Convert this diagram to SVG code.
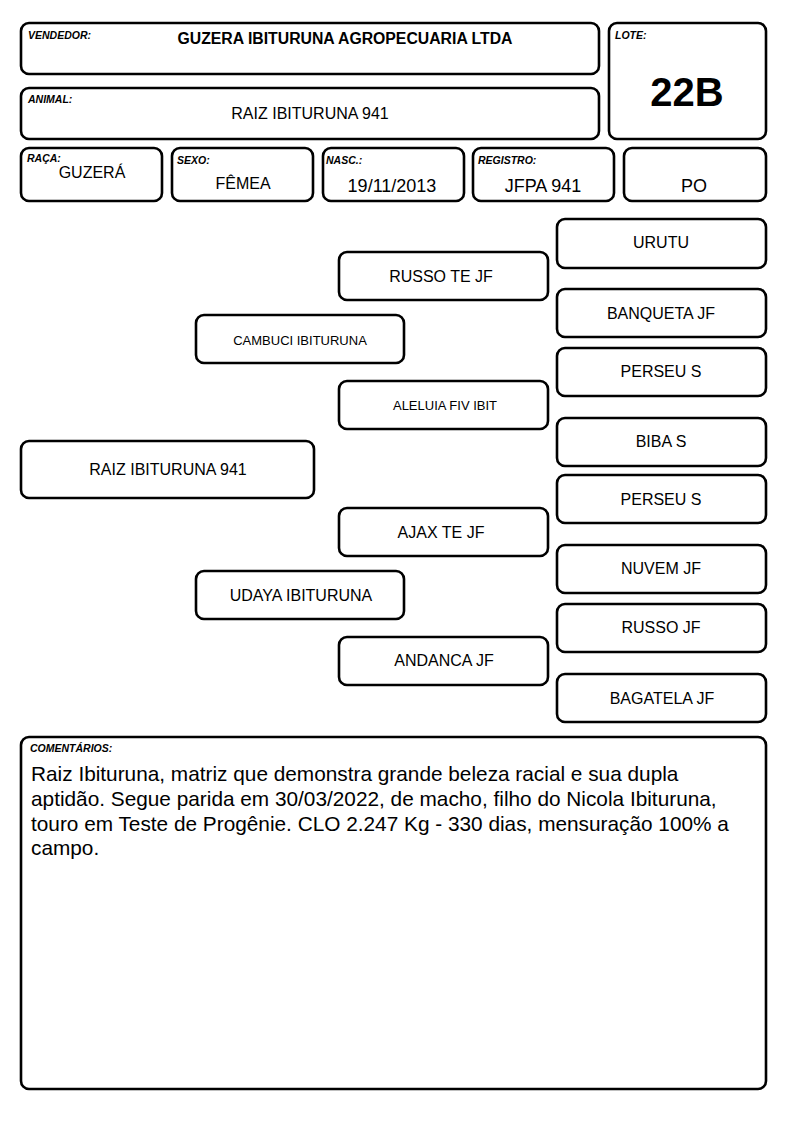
<svg xmlns="http://www.w3.org/2000/svg" width="794" height="1123" viewBox="0 0 794 1123">
<style>
.b{fill:#fff;stroke:#000;stroke-width:2.6}
.l{font-family:"Liberation Sans",Arial,sans-serif;font-size:10.5px;font-weight:bold;font-style:italic;fill:#000}
.v{font-family:"Liberation Sans",Arial,sans-serif;font-size:16px;fill:#000;text-anchor:middle}
.big{font-size:18px}
.p{font-family:"Liberation Sans",Arial,sans-serif;font-size:16px;fill:#000;text-anchor:middle}
.s{font-size:13px}
.c{font-family:"Liberation Sans",Arial,sans-serif;font-size:20.8px;fill:#000}
</style>
<rect width="794" height="1123" fill="#fff"/>
<g id="vendedor"><rect class="b" x="21" y="23" width="578" height="51" rx="8"/><text class="l" x="28" y="39">VENDEDOR:</text><text class="v" x="345" y="44" style="font-weight:bold" textLength="335" lengthAdjust="spacingAndGlyphs">GUZERA IBITURUNA AGROPECUARIA LTDA</text></g>
<g id="lote"><rect class="b" x="609" y="23" width="157" height="116" rx="8"/><text class="l" x="615" y="39">LOTE:</text><text class="v" x="687" y="106" style="font-size:40px;font-weight:bold">22B</text></g>
<g id="animal"><rect class="b" x="21" y="88" width="578" height="51" rx="8"/><text class="l" x="28" y="103">ANIMAL:</text><text class="v" x="310" y="119">RAIZ IBITURUNA 941</text></g>
<g id="raca"><rect class="b" x="21" y="148" width="141" height="53" rx="8"/><text class="l" x="27" y="162">RAÇA:</text><text class="v" x="92" y="178">GUZERÁ</text></g>
<g id="sexo"><rect class="b" x="172" y="148" width="141" height="53" rx="8"/><text class="l" x="177" y="164">SEXO:</text><text class="v" x="243" y="189">FÊMEA</text></g>
<g id="nasc"><rect class="b" x="323" y="148" width="141" height="53" rx="8"/><text class="l" x="326" y="164">NASC.:</text><text class="v big" x="392" y="192">19/11/2013</text></g>
<g id="registro"><rect class="b" x="473" y="148" width="141" height="53" rx="8"/><text class="l" x="478" y="164">REGISTRO:</text><text class="v big" x="543" y="192">JFPA 941</text></g>
<g id="po"><rect class="b" x="624" y="148" width="142" height="53" rx="8"/><text class="v big" x="694" y="192">PO</text></g>
<g id="connectors"></g>
<g id="urutu"><rect class="b" x="557" y="219" width="209" height="49" rx="8"/><text class="p" x="661" y="248">URUTU</text></g>
<g id="russo-te-jf"><rect class="b" x="339" y="252" width="209" height="48" rx="8"/><text class="p" x="441" y="282">RUSSO TE JF</text></g>
<g id="banqueta-jf"><rect class="b" x="557" y="289" width="209" height="48" rx="8"/><text class="p" x="661" y="319">BANQUETA JF</text></g>
<g id="cambuci"><rect class="b" x="196" y="315" width="208" height="48" rx="8"/><text class="p s" x="300" y="345">CAMBUCI IBITURUNA</text></g>
<g id="perseu-s-1"><rect class="b" x="557" y="348" width="209" height="48" rx="8"/><text class="p" x="661" y="377">PERSEU S</text></g>
<g id="aleluia"><rect class="b" x="339" y="381" width="209" height="48" rx="8"/><text class="p s" x="445" y="410">ALELUIA FIV IBIT</text></g>
<g id="biba-s"><rect class="b" x="557" y="418" width="209" height="48" rx="8"/><text class="p" x="661" y="447">BIBA S</text></g>
<g id="raiz"><rect class="b" x="21" y="441" width="293" height="57" rx="8"/><text class="p" x="168" y="475">RAIZ IBITURUNA 941</text></g>
<g id="perseu-s-2"><rect class="b" x="557" y="475" width="209" height="48" rx="8"/><text class="p" x="661" y="505">PERSEU S</text></g>
<g id="ajax"><rect class="b" x="339" y="508" width="209" height="48" rx="8"/><text class="p" x="441" y="538">AJAX TE JF</text></g>
<g id="nuvem"><rect class="b" x="557" y="545" width="209" height="48" rx="8"/><text class="p" x="661" y="574">NUVEM JF</text></g>
<g id="udaya"><rect class="b" x="196" y="571" width="208" height="48" rx="8"/><text class="p" x="301" y="601">UDAYA IBITURUNA</text></g>
<g id="russo-jf"><rect class="b" x="557" y="604" width="209" height="48" rx="8"/><text class="p" x="661" y="633">RUSSO JF</text></g>
<g id="andanca"><rect class="b" x="339" y="637" width="209" height="48" rx="8"/><text class="p" x="444" y="666">ANDANCA JF</text></g>
<g id="bagatela"><rect class="b" x="557" y="674" width="209" height="48" rx="8"/><text class="p" x="662" y="704">BAGATELA JF</text></g>
<g id="comentarios"><rect class="b" x="21" y="737" width="745" height="352" rx="8"/><text class="l" x="30" y="752">COMENTÁRIOS:</text>
<text class="c" x="31" y="781">Raiz Ibituruna, matriz que demonstra grande beleza racial e sua dupla</text>
<text class="c" x="31" y="806">aptidão. Segue parida em 30/03/2022, de macho, filho do Nicola Ibituruna,</text>
<text class="c" x="31" y="831">touro em Teste de Progênie. CLO 2.247 Kg - 330 dias, mensuração 100% a</text>
<text class="c" x="31" y="855">campo.</text></g>
</svg>
